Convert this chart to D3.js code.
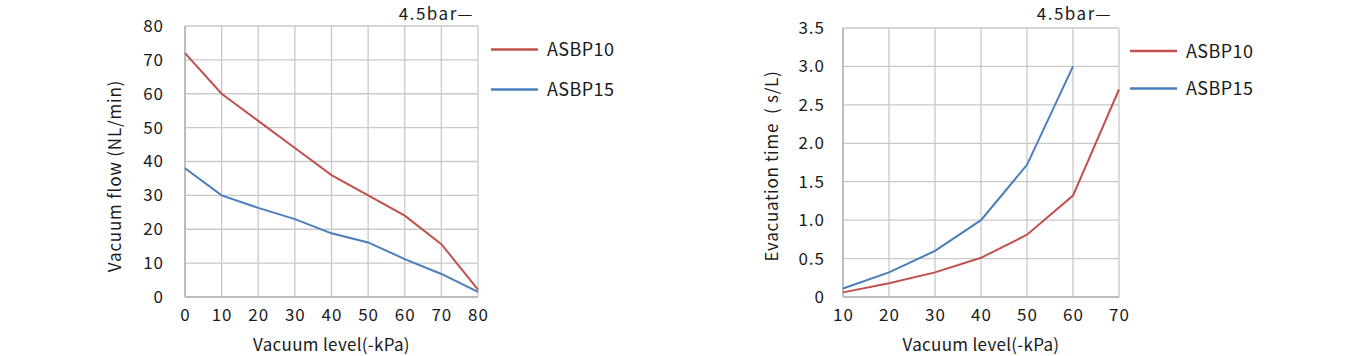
<!DOCTYPE html>
<html><head><meta charset="utf-8">
<script src="https://cdn.jsdelivr.net/npm/d3@7"></script>
<style>
body{margin:0;background:#fff;}
text{font-family:"Noto Sans CJK SC","Noto Sans",sans-serif;fill:#1a1a1a;}
</style></head>
<body><svg id="c" width="1353" height="356"></svg>
<script>
// Chart 1: vacuum flow
const flowX = [0,10,20,30,40,50,60,70,80];
const flowASBP10 = [72,60,52,44,36,30,24,15.6,2.2];
const flowASBP15 = [38,30,26.3,23,18.8,16.1,11.2,6.8,1.5];
const flowXTicks = [0,10,20,30,40,50,60,70,80];
const flowYTicks = [0,10,20,30,40,50,60,70,80];
// Chart 2: evacuation time
const evacX = [10,20,30,40,50,60,70];
const evacASBP10 = [0.06,0.18,0.32,0.51,0.81,1.32,2.7];
const evacASBP15 = [0.11,0.32,0.6,1.0,1.72,3.0];
const evacXTicks = [10,20,30,40,50,60,70];
const evacYTicks = [0,0.5,1.0,1.5,2.0,2.5,3.0,3.5];
const seriesNames = ["ASBP10","ASBP15"];
const colors = ["#c0504d","#4a7ebb"];

const svg = d3.select("#c");

function drawChart(cfg){
  const g = svg.append("g");
  const x = d3.scaleLinear().domain(cfg.xDomain).range([cfg.x0, cfg.x1]);
  const y = d3.scaleLinear().domain(cfg.yDomain).range([cfg.y0, cfg.y1]);
  // grid
  g.append("g").selectAll("line").data(cfg.xTicks).join("line")
    .attr("x1",d=>x(d)).attr("x2",d=>x(d)).attr("y1",y(cfg.yDomain[0])).attr("y2",y(cfg.yDomain[1]))
    .attr("stroke","#c9c9c9").attr("stroke-width",1.3);
  g.append("g").selectAll("line").data(cfg.yTicks).join("line")
    .attr("y1",d=>y(d)).attr("y2",d=>y(d)).attr("x1",x(cfg.xDomain[0])).attr("x2",x(cfg.xDomain[1]))
    .attr("stroke","#c9c9c9").attr("stroke-width",1.3);
  // axes lines
  g.append("line").attr("x1",x(cfg.xDomain[0])).attr("x2",x(cfg.xDomain[0]))
    .attr("y1",y(cfg.yDomain[0])).attr("y2",y(cfg.yDomain[1])).attr("stroke","#bdbdbd").attr("stroke-width",2);
  g.append("line").attr("x1",x(cfg.xDomain[0])).attr("x2",x(cfg.xDomain[1]))
    .attr("y1",y(cfg.yDomain[0])).attr("y2",y(cfg.yDomain[0])).attr("stroke","#bdbdbd").attr("stroke-width",2);
  // axes tick labels via d3 axes
  const ax = g.append("g").attr("transform",`translate(0,${y(cfg.yDomain[0])})`)
    .call(d3.axisBottom(x).tickValues(cfg.xTicks).tickSize(0).tickPadding(cfg.xPad).tickFormat(cfg.xFmt));
  ax.select(".domain").remove();
  ax.selectAll("text").attr("font-size",17).attr("font-family","Noto Sans CJK SC").attr("fill","#1a1a1a").attr("letter-spacing","1px");
  const ay = g.append("g").attr("transform",`translate(${x(cfg.xDomain[0])},0)`)
    .call(d3.axisLeft(y).tickValues(cfg.yTicks).tickSize(0).tickPadding(cfg.yPad).tickFormat(cfg.yFmt));
  ay.select(".domain").remove();
  ay.selectAll("text").attr("font-size",17).attr("font-family","Noto Sans CJK SC").attr("fill","#1a1a1a").attr("letter-spacing","1px");
  // lines
  const line = d3.line().x(d=>x(d[0])).y(d=>y(d[1]));
  cfg.series.forEach((s,i)=>{
    const pts = s.map((v,j)=>[cfg.xs[j],v]);
    g.append("path").attr("d",line(pts)).attr("fill","none").attr("stroke",colors[i]).attr("stroke-width",2);
  });
  // titles
  g.append("text").attr("x",(cfg.x0+cfg.x1)/2).attr("y",351).attr("text-anchor","middle")
    .attr("font-size",17).attr("letter-spacing","0.3px").text("Vacuum level(-kPa)");
  g.append("text").attr("transform",`translate(${cfg.ytX},${cfg.ytY}) rotate(-90)`).attr("text-anchor","middle")
    .attr("font-size",17).attr("letter-spacing",cfg.ytLS).attr("xml:space","preserve").text(cfg.yTitle);
  g.append("text").attr("x",cfg.barX).attr("y",20).attr("text-anchor","end").attr("font-size",17)
    .attr("letter-spacing","1.5px").text("4.5bar—");
  // legend
  seriesNames.forEach((n,i)=>{
    const ly = cfg.legY[i];
    g.append("line").attr("x1",cfg.legX).attr("x2",cfg.legX+47).attr("y1",ly).attr("y2",ly)
      .attr("stroke",colors[i]).attr("stroke-width",2.5);
    g.append("text").attr("x",cfg.legX+56).attr("y",ly+6.5).attr("font-size",18).attr("letter-spacing","0.4px").text(n);
  });
}

drawChart({xDomain:[0,80], yDomain:[0,80], x0:185, x1:478, y0:297, y1:26,
  xTicks:flowXTicks, yTicks:flowYTicks, xs:flowX, series:[flowASBP10,flowASBP15],
  xFmt:d3.format("d"), yFmt:d3.format("d"), xPad:12, yPad:21,
  yTitle:"Vacuum flow (NL/min)", ytX:121, ytY:176, ytLS:"0.8px", barX:474, legX:491, legY:[49.5,89.5]});

drawChart({xDomain:[10,70], yDomain:[0,3.5], x0:843, x1:1119, y0:297, y1:28,
  xTicks:evacXTicks, yTicks:evacYTicks, xs:evacX, series:[evacASBP10,evacASBP15],
  xFmt:d3.format("d"), yFmt:d=>d===0?"0":d3.format(".1f")(d), xPad:12, yPad:18,
  yTitle:"Evacuation time  ( s/L)", ytX:778, ytY:166, ytLS:"0.7px", barX:1112, legX:1130, legY:[51,88.5]});
</script></body></html>
